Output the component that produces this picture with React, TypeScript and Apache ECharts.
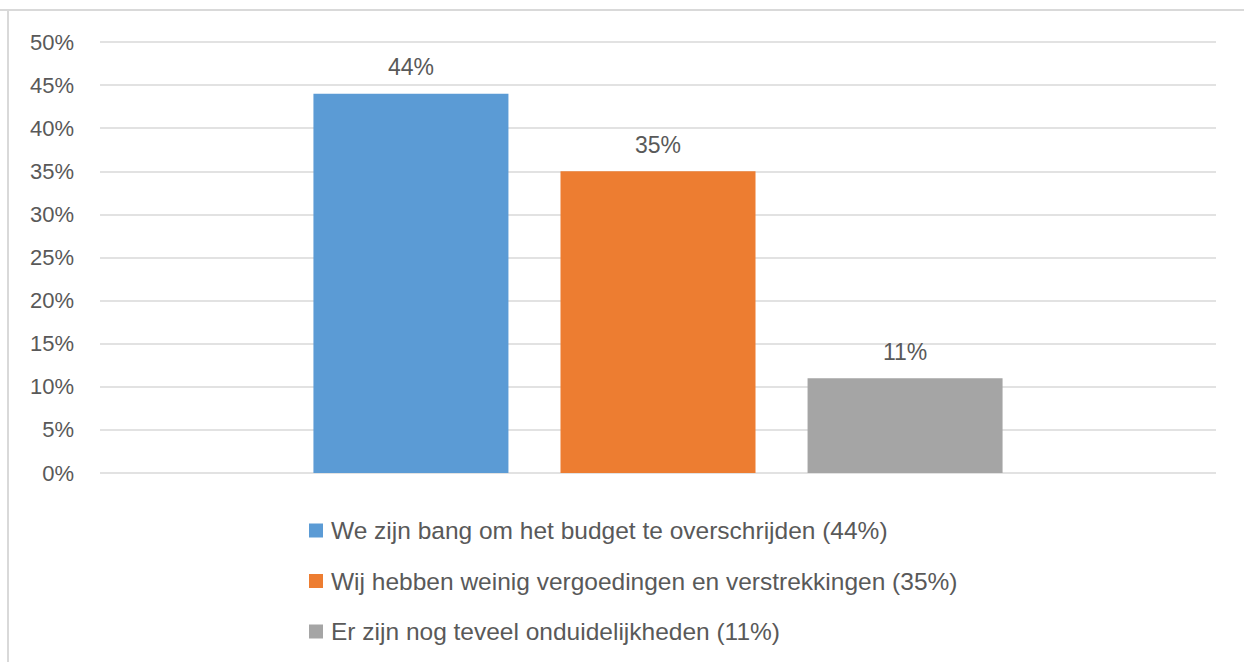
import React, { useEffect, useRef } from "react";
import * as echarts from "echarts";

const categories = [""];
const seriesNames = [
  "We zijn bang om het budget te overschrijden (44%)",
  "Wij hebben weinig vergoedingen en verstrekkingen (35%)",
  "Er zijn nog teveel onduidelijkheden (11%)",
];
const seriesValues = [44, 35, 11];
const seriesColors = ["#5B9BD5", "#ED7D31", "#A5A5A5"];
const yMin = 0;
const yMax = 50;
const yInterval = 5;

const FONT = "Liberation Sans";
const TEXT = "#595959";

export default function App() {
  const ref = useRef<HTMLDivElement>(null);
  useEffect(() => {
    if (!ref.current) return;
    const chart = echarts.init(ref.current, undefined, { renderer: "svg" });
    chart.setOption({
      animation: false,
      backgroundColor: "#ffffff",
      textStyle: { fontFamily: FONT },
      grid: { left: 100, right: 28, top: 42, bottom: 189, containLabel: false },
      xAxis: {
        type: "category",
        data: categories,
        axisLine: { show: false },
        axisTick: { show: false },
        axisLabel: { show: false },
      },
      yAxis: {
        type: "value",
        min: yMin,
        max: yMax,
        interval: yInterval,
        axisLine: { show: false },
        axisTick: { show: false },
        axisLabel: {
          formatter: "{value}%",
          color: TEXT,
          fontSize: 22,
          fontFamily: FONT,
          margin: 26,
        },
        splitLine: { lineStyle: { color: "#D9D9D9", width: 1.5 } },
      },
      legend: {
        orient: "vertical",
        left: 309,
        top: 518,
        padding: 0,
        itemWidth: 14,
        itemHeight: 14,
        itemGap: 25.5,
        icon: "rect",
        textStyle: {
          color: TEXT,
          fontSize: 24.5,
          fontFamily: FONT,
          lineHeight: 25,
          padding: [0, 0, 0, 3],
        },
        data: seriesNames,
      },
      graphic: [
        {
          type: "line",
          shape: { x1: 0, y1: 10, x2: 1244, y2: 10 },
          style: { stroke: "#D9D9D9", lineWidth: 2 },
        },
        {
          type: "line",
          shape: { x1: 8, y1: 10, x2: 8, y2: 662 },
          style: { stroke: "#D9D9D9", lineWidth: 2 },
        },
      ],
      series: seriesNames.map((name, i) => ({
        name,
        type: "bar",
        barWidth: 195,
        barGap: "26.7%",
        itemStyle: { color: seriesColors[i] },
        label: {
          show: true,
          position: "top",
          distance: 15,
          formatter: "{c}%",
          color: TEXT,
          fontSize: 23,
          fontFamily: FONT,
        },
        data: [seriesValues[i]],
      })),
    });
    return () => chart.dispose();
  }, []);
  return (
    <div
      ref={ref}
      style={{ position: "fixed", left: 0, top: 0, width: 1244, height: 662 }}
    />
  );
}
